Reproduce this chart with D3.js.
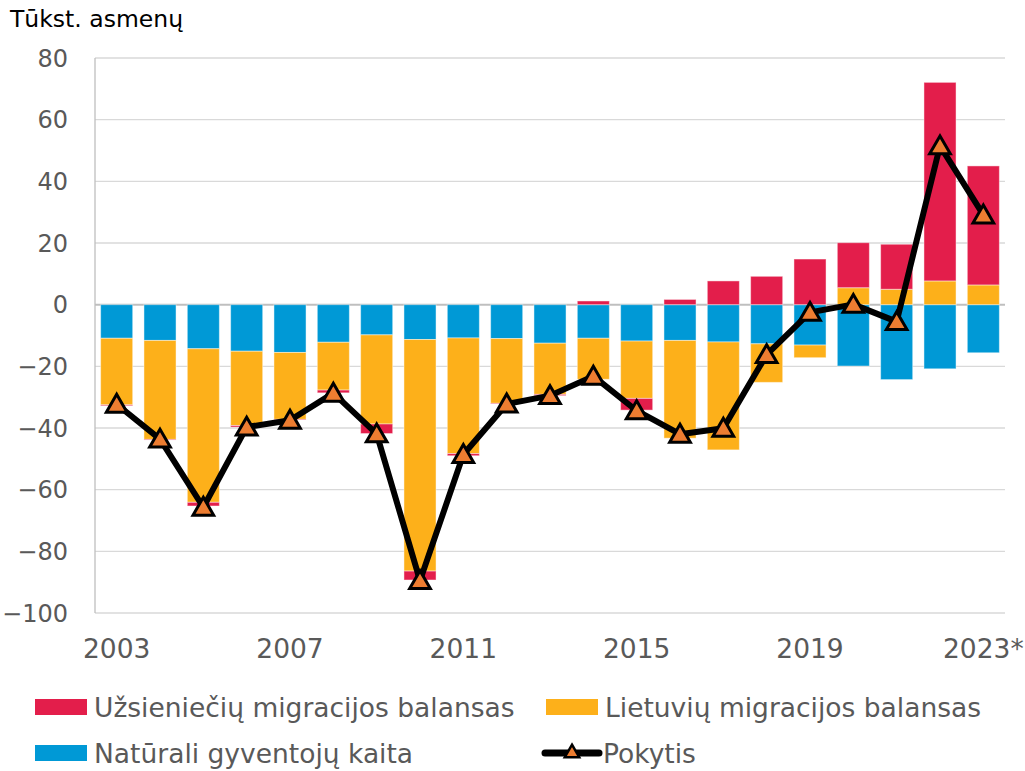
<!DOCTYPE html>
<html><head><meta charset="utf-8">
<script src="https://cdn.jsdelivr.net/npm/d3@7"></script>
<style>body{margin:0;background:#fff}svg{display:block;font-family:"DejaVu Sans",Verdana,sans-serif}</style>
</head><body><svg id="c" width="1025" height="771"></svg>
<script>
const years = d3.range(2003, 2024);
const yearLabels = ["2003","2004","2005","2006","2007","2008","2009","2010","2011","2012","2013","2014","2015","2016","2017","2018","2019","2020","2021","2022","2023*"];
const natural = [-10.9,-11.6,-14.3,-15.1,-15.5,-12.2,-9.8,-11.3,-10.8,-11.0,-12.5,-10.9,-11.8,-11.6,-12.1,-12.7,-13.1,-19.9,-24.3,-20.8,-15.6];
const lithuanian = [-21.6,-32.1,-49.8,-24.1,-21.7,-15.5,-28.9,-75.1,-37.5,-21.0,-16.6,-13.3,-18.6,-31.7,-35.0,-12.5,-4.1,5.5,5.0,7.7,6.4];
const foreign = [-0.3,-0.2,-1.2,-0.5,-0.2,-0.9,-3.1,-2.9,-0.7,-0.2,-0.4,1.2,-3.8,1.7,7.7,9.2,14.8,14.6,14.6,64.4,38.6];
const change = [-32.3,-43.6,-65.7,-39.7,-37.5,-28.7,-41.9,-89.5,-48.6,-32.2,-29.5,-23.2,-34.4,-42.0,-40.1,-16.2,-2.5,0.1,-5.5,51.5,29.1];
const yTicks = [-100,-80,-60,-40,-20,0,20,40,60,80];
const xTickYears = ["2003","2007","2011","2015","2019","2023*"];
const seriesNames = ["Užsieniečių migracijos balansas","Lietuvių migracijos balansas","Natūrali gyventojų kaita","Pokytis"];
const colors = {foreign:"#E31E4B", lithuanian:"#FDB01A", natural:"#0099D6", marker:"#ED7D31"};

const svg = d3.select("#c");
const L = 95, R = 1005, T = 58, B = 613;
const x = d3.scaleBand().domain(yearLabels).range([L, R]).paddingInner(0.26).paddingOuter(0.13);
const y = d3.scaleLinear().domain([-100, 80]).range([B, T]);

// gridlines
svg.append("g").selectAll("line").data(yTicks).join("line")
  .attr("x1", L).attr("x2", R).attr("y1", d => y(d)).attr("y2", d => y(d))
  .attr("stroke", d => d === 0 ? "#bfbfbf" : "#d9d9d9").attr("stroke-width", d => d === 0 ? 2 : 1.3);
svg.append("line").attr("x1", L).attr("x2", L).attr("y1", T).attr("y2", B).attr("stroke", "#bfbfbf").attr("stroke-width", 1.3);

// y labels
const fmt = d => d < 0 ? "\u2212" + Math.abs(d) : String(d);
svg.append("g").selectAll("text").data(yTicks).join("text")
  .attr("x", 68).attr("y", d => y(d)).attr("dy", "0.36em").attr("text-anchor", "end")
  .attr("font-size", 24).attr("fill", "#595959").text(fmt);

// stacked bars
const rows = yearLabels.map((k, i) => ({key: k, natural: natural[i], lithuanian: lithuanian[i], foreign: foreign[i]}));
const stack = d3.stack().keys(["natural","lithuanian","foreign"]).offset(d3.stackOffsetDiverging);
const layers = stack(rows);
svg.append("g").selectAll("g").data(layers).join("g")
  .attr("fill", d => colors[d.key])
  .selectAll("rect").data(d => d).join("rect")
  .attr("x", d => x(d.data.key)).attr("width", x.bandwidth())
  .attr("y", d => y(Math.max(d[0], d[1]))).attr("height", d => Math.abs(y(d[0]) - y(d[1])))
  .attr("stroke", "rgba(255,255,255,0.45)").attr("stroke-width", 1);

// line
const cx = k => x(k) + x.bandwidth() / 2;
const line = d3.line().x((d, i) => cx(yearLabels[i])).y(d => y(d));
svg.append("path").datum(change).attr("d", line).attr("fill", "none")
  .attr("stroke", "#000").attr("stroke-width", 6).attr("stroke-linejoin", "round");
const tri = d3.symbol().type(d3.symbolTriangle).size(185);
svg.append("g").selectAll("path").data(change).join("path")
  .attr("d", tri).attr("transform", (d, i) => `translate(${cx(yearLabels[i])},${y(d) + 2})`)
  .attr("fill", colors.marker).attr("stroke", "#000").attr("stroke-width", 3).attr("stroke-linejoin", "miter");

// x labels
svg.append("g").selectAll("text").data(xTickYears).join("text")
  .attr("x", d => cx(d)).attr("y", 648).attr("dy", "0.36em").attr("text-anchor", "middle")
  .attr("font-size", 26.5).attr("fill", "#595959").text(d => d);

// title
svg.append("text").attr("x", 10).attr("y", 27).attr("font-size", 23.5).attr("fill", "#000").text("Tūkst. asmenų");

// legend
const leg = [
  {name: seriesNames[0], c: colors.foreign, x: 35, y: 707},
  {name: seriesNames[1], c: colors.lithuanian, x: 546, y: 707},
  {name: seriesNames[2], c: colors.natural, x: 35, y: 753},
  {name: seriesNames[3], c: null, x: 543, y: 753}
];
const lg = svg.append("g").selectAll("g").data(leg).join("g").attr("transform", d => `translate(${d.x},${d.y})`);
lg.filter(d => d.c).append("rect").attr("x", 0).attr("y", -8).attr("width", 52).attr("height", 16).attr("fill", d => d.c);
const lp = lg.filter(d => !d.c);
lp.append("line").attr("x1", 2).attr("x2", 56).attr("y1", 0).attr("y2", 0).attr("stroke", "#000").attr("stroke-width", 7).attr("stroke-linecap", "round");
lp.append("path").attr("d", d3.symbol().type(d3.symbolTriangle).size(90)).attr("transform", "translate(29,0)")
  .attr("fill", colors.marker).attr("stroke", "#000").attr("stroke-width", 2.5);
lg.append("text").attr("x", d => d.c ? 59 : 60).attr("y", 0).attr("dy", "0.36em")
  .attr("font-size", 26.5).attr("fill", "#595959").text(d => d.name);
</script></body></html>
